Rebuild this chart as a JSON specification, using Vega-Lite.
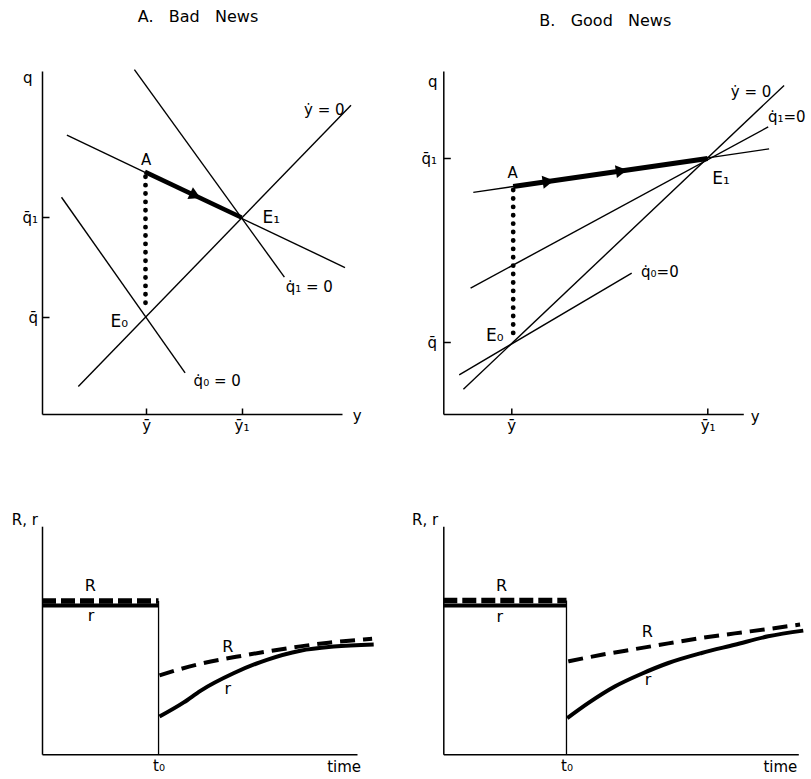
{
  "$schema": "https://vega.github.io/schema/vega-lite/v6.json",
  "autosize": {"type": "pad"},
  "padding": {"left": 11, "top": 8, "right": 0, "bottom": 0},
  "background": "white",
  "columns": 2,
  "spacing": {"row": 112.2, "column": 86.3},
  "bounds": "flush",
  "datasets": {
    "a_thin": [
      {"line": "ydot", "x": 12.1, "y": 8}, {"line": "ydot", "x": 103, "y": 90},
      {"line": "q1dot", "x": 30.8, "y": 100.4}, {"line": "q1dot", "x": 80.8, "y": 39.9},
      {"line": "q0dot", "x": 6.5, "y": 63.2}, {"line": "q0dot", "x": 47.7, "y": 12},
      {"line": "saddle", "x": 8.3, "y": 81.3}, {"line": "saddle", "x": 101, "y": 42.7}
    ],
    "a_path": [{"x": 34.3, "y": 70.6}, {"x": 66.5, "y": 57.3}],
    "a_dots": [{"x": 34.5, "y": 69.2}, {"x": 34.5, "y": 30.8}],
    "a_heads": [{"x": 51.1, "y": 63.7}],
    "a_labels": [
      {"label": "A", "x": 34.7, "y": 74.1},
      {"label": "E₁", "x": 76.4, "y": 57.1},
      {"label": "E₀", "x": 25.8, "y": 26.7},
      {"label": "ẏ = 0", "x": 94.1, "y": 88.7},
      {"label": "q̇₁ = 0", "x": 89.1, "y": 36.9},
      {"label": "q̇₀ = 0", "x": 58.4, "y": 9.7}
    ],
    "b_thin": [
      {"line": "ydot", "x": 6.7, "y": 7.2}, {"line": "ydot", "x": 113.6, "y": 95.8},
      {"line": "q1dot", "x": 9.1, "y": 36.7}, {"line": "q1dot", "x": 108.3, "y": 83.7},
      {"line": "q0dot", "x": 5.3, "y": 11.4}, {"line": "q0dot", "x": 62.8, "y": 41.1},
      {"line": "saddle", "x": 10, "y": 64.6}, {"line": "saddle", "x": 108.6, "y": 77.3}
    ],
    "b_path": [{"x": 23.3, "y": 66.3}, {"x": 88.1, "y": 74.5}],
    "b_dots": [{"x": 23.3, "y": 65.3}, {"x": 23.3, "y": 23.3}],
    "b_heads": [{"x": 35, "y": 67.8}, {"x": 59.4, "y": 70.9}],
    "b_labels": [
      {"label": "A", "x": 23.1, "y": 70.4},
      {"label": "E₁", "x": 92.6, "y": 68.5},
      {"label": "E₀", "x": 17.2, "y": 22.8},
      {"label": "ẏ = 0", "x": 102.6, "y": 93.8},
      {"label": "q̇₁=0", "x": 114.5, "y": 86.5},
      {"label": "q̇₀=0", "x": 72.2, "y": 41.3}
    ],
    "c_R": [
      {"phase": "before", "x": 0, "y": 67.2}, {"phase": "before", "x": 37, "y": 67.2},
      {"phase": "after", "x": 37.3, "y": 34.6}, {"phase": "after", "x": 49.2, "y": 39.3},
      {"phase": "after", "x": 64, "y": 43.3}, {"phase": "after", "x": 73.5, "y": 45.5},
      {"phase": "after", "x": 82, "y": 47.3}, {"phase": "after", "x": 91, "y": 48.9},
      {"phase": "after", "x": 102.1, "y": 50.3}, {"phase": "after", "x": 104.8, "y": 50.6}
    ],
    "c_r": [
      {"phase": "before", "x": 0, "y": 65.2}, {"phase": "before", "x": 37, "y": 65.2},
      {"phase": "after", "x": 37.3, "y": 16.5}, {"phase": "after", "x": 45, "y": 22.7},
      {"phase": "after", "x": 50.3, "y": 27.8}, {"phase": "after", "x": 60.8, "y": 35.5},
      {"phase": "after", "x": 71.4, "y": 41.4}, {"phase": "after", "x": 82, "y": 45.4},
      {"phase": "after", "x": 92.6, "y": 47.2}, {"phase": "after", "x": 105.3, "y": 48.1}
    ],
    "c_t0": [{"x": 37, "y": 0, "y2": 67.2}],
    "c_labels": [
      {"label": "R", "x": 15.3, "y": 73.6},
      {"label": "r", "x": 15.6, "y": 60.5},
      {"label": "R", "x": 59, "y": 46.9},
      {"label": "r", "x": 59, "y": 28.6}
    ],
    "d_R": [
      {"phase": "before", "x": 0, "y": 67.4}, {"phase": "before", "x": 34.7, "y": 67.4},
      {"phase": "after", "x": 35.2, "y": 40.7}, {"phase": "after", "x": 44.6, "y": 43.6},
      {"phase": "after", "x": 54, "y": 46.1}, {"phase": "after", "x": 63.4, "y": 48.6},
      {"phase": "after", "x": 72.8, "y": 51}, {"phase": "after", "x": 82.1, "y": 53},
      {"phase": "after", "x": 91.5, "y": 54.9}, {"phase": "after", "x": 100.5, "y": 56.9}
    ],
    "d_r": [
      {"phase": "before", "x": 0, "y": 65.2}, {"phase": "before", "x": 34.7, "y": 65.2},
      {"phase": "after", "x": 34.9, "y": 15.8}, {"phase": "after", "x": 40.8, "y": 22.4},
      {"phase": "after", "x": 48.3, "y": 29.7}, {"phase": "after", "x": 55.9, "y": 35.3},
      {"phase": "after", "x": 63.4, "y": 40}, {"phase": "after", "x": 72.8, "y": 44.4},
      {"phase": "after", "x": 82.1, "y": 48}, {"phase": "after", "x": 91.5, "y": 51.7},
      {"phase": "after", "x": 101.4, "y": 54.2}
    ],
    "d_t0": [{"x": 34.7, "y": 0, "y2": 67.4}],
    "d_labels": [
      {"label": "R", "x": 16.4, "y": 73.9},
      {"label": "r", "x": 15.9, "y": 60},
      {"label": "R", "x": 57.5, "y": 53.4},
      {"label": "r", "x": 57.7, "y": 32.6}
    ]
  },
  "concat": [
    {
      "width": 300, "height": 343,
      "title": {"text": "A.\u00a0\u00a0 Bad\u00a0\u00a0 News", "frame": "group", "anchor": "middle", "offset": 42, "dx": 6},
      "encoding": {
        "x": {"field": "x", "type": "quantitative", "scale": {"domain": [0, 100], "nice": false, "zero": false},
          "axis": {"values": [34.7, 66.5], "labelExpr": "datum.value < 50 ? 'ȳ' : 'ȳ₁'", "tickSize": -6, "labelPadding": 17.7, "labelBaseline": "middle",
            "title": "y", "titleAngle": 0, "titleX": 314.8, "titleY": 1.7, "titleAlign": "center", "titleBaseline": "middle"}},
        "y": {"field": "y", "type": "quantitative", "scale": {"domain": [0, 100], "nice": false, "zero": false},
          "axis": {"values": [28.2, 57.3], "labelExpr": "datum.value < 40 ? 'q̄' : 'q̄₁'", "tickSize": -7, "labelPadding": 11.4, "labelBaseline": "middle",
            "title": "q", "titleAngle": 0, "titleX": -14.7, "titleY": 6.7, "titleAlign": "center", "titleBaseline": "middle"}}
      },
      "layer": [
        {"data": {"name": "a_thin"}, "mark": {"type": "line", "color": "black", "strokeWidth": 1.4}, "encoding": {"detail": {"field": "line"}}},
        {"data": {"name": "a_path"}, "mark": {"type": "line", "color": "black", "strokeWidth": 4.5}, "encoding": {}},
        {"data": {"name": "a_dots"}, "mark": {"type": "line", "color": "black", "strokeWidth": 4.8, "strokeCap": "round", "strokeDash": [0.1, 8.3]}, "encoding": {}},
        {"data": {"name": "a_heads"}, "mark": {"type": "point", "shape": "triangle-right", "filled": true, "color": "black", "opacity": 1, "size": 170, "angle": 25}},
        {"data": {"name": "a_labels"}, "transform": [{"filter": "!test(/^E/, datum.label)"}], "mark": {"type": "text", "fontSize": 15, "color": "black"}, "encoding": {"text": {"field": "label"}}},
        {"data": {"name": "a_labels"}, "transform": [{"filter": "test(/^E/, datum.label)"}], "mark": {"type": "text", "fontSize": 17, "color": "black"}, "encoding": {"text": {"field": "label"}}}
      ]
    },
    {
      "width": 300, "height": 343,
      "title": {"text": "B.\u00a0\u00a0 Good\u00a0\u00a0 News", "frame": "group", "anchor": "middle", "offset": 42, "dx": 12},
      "encoding": {
        "x": {"field": "x", "type": "quantitative", "scale": {"domain": [0, 100], "nice": false, "zero": false},
          "axis": {"values": [22.6, 88.1], "labelExpr": "datum.value < 50 ? 'ȳ' : 'ȳ₁'", "tickSize": -6, "labelPadding": 17.7, "labelBaseline": "middle",
            "title": "y", "titleAngle": 0, "titleX": 311.3, "titleY": 2.4, "titleAlign": "center", "titleBaseline": "middle"}},
        "y": {"field": "y", "type": "quantitative", "scale": {"domain": [0, 100], "nice": false, "zero": false},
          "axis": {"values": [20.9, 74.5], "labelExpr": "datum.value < 40 ? 'q̄' : 'q̄₁'", "tickSize": -7, "labelPadding": 13.7, "labelBaseline": "middle",
            "title": "q", "titleAngle": 0, "titleX": -11, "titleY": 10.4, "titleAlign": "center", "titleBaseline": "middle"}}
      },
      "layer": [
        {"data": {"name": "b_thin"}, "mark": {"type": "line", "color": "black", "strokeWidth": 1.4}, "encoding": {"detail": {"field": "line"}}},
        {"data": {"name": "b_path"}, "mark": {"type": "line", "color": "black", "strokeWidth": 5}, "encoding": {}},
        {"data": {"name": "b_dots"}, "mark": {"type": "line", "color": "black", "strokeWidth": 4.8, "strokeCap": "round", "strokeDash": [0.1, 8.3]}, "encoding": {}},
        {"data": {"name": "b_heads"}, "mark": {"type": "point", "shape": "triangle-right", "filled": true, "color": "black", "opacity": 1, "size": 170, "angle": -8.8}},
        {"data": {"name": "b_labels"}, "transform": [{"filter": "!test(/^E/, datum.label)"}], "mark": {"type": "text", "fontSize": 15, "color": "black"}, "encoding": {"text": {"field": "label"}}},
        {"data": {"name": "b_labels"}, "transform": [{"filter": "test(/^E/, datum.label)"}], "mark": {"type": "text", "fontSize": 17, "color": "black"}, "encoding": {"text": {"field": "label"}}}
      ]
    },
    {
      "width": 315, "height": 228,
      "encoding": {
        "x": {"field": "x", "type": "quantitative", "scale": {"domain": [0, 100], "nice": false, "zero": false},
          "axis": {"values": [37], "labelExpr": "'t₀'", "ticks": false, "labelPadding": 4, "labelBaseline": "top",
            "title": "time", "titleAngle": 0, "titleX": 301.6, "titleY": 12.5, "titleAlign": "center", "titleBaseline": "middle"}},
        "y": {"field": "y", "type": "quantitative", "scale": {"domain": [0, 100], "nice": false, "zero": false},
          "axis": {"values": [], "ticks": false, "labels": false,
            "title": "R, r", "titleAngle": 0, "titleX": -17.7, "titleY": -6.3, "titleAlign": "center", "titleBaseline": "middle"}}
      },
      "layer": [
        {"data": {"name": "c_t0"}, "mark": {"type": "rule", "color": "black", "strokeWidth": 1.3}, "encoding": {"y2": {"field": "y2"}}},
        {"data": {"name": "c_r"}, "transform": [{"filter": "datum.phase == 'before'"}], "mark": {"type": "line", "color": "black", "strokeWidth": 4}, "encoding": {}},
        {"data": {"name": "c_R"}, "transform": [{"filter": "datum.phase == 'before'"}], "mark": {"type": "line", "color": "black", "strokeWidth": 5.5, "strokeDash": [14, 5]}, "encoding": {}},
        {"data": {"name": "c_r"}, "transform": [{"filter": "datum.phase == 'after'"}], "mark": {"type": "line", "color": "black", "strokeWidth": 4, "interpolate": "monotone"}, "encoding": {}},
        {"data": {"name": "c_R"}, "transform": [{"filter": "datum.phase == 'after'"}], "mark": {"type": "line", "color": "black", "strokeWidth": 4, "strokeDash": [15, 8], "interpolate": "monotone"}, "encoding": {}},
        {"data": {"name": "c_labels"}, "mark": {"type": "text", "fontSize": 16, "color": "black"}, "encoding": {"text": {"field": "label"}}}
      ]
    },
    {
      "width": 355, "height": 228,
      "encoding": {
        "x": {"field": "x", "type": "quantitative", "scale": {"domain": [0, 100], "nice": false, "zero": false},
          "axis": {"values": [34.7], "labelExpr": "'t₀'", "ticks": false, "labelPadding": 4, "labelBaseline": "top",
            "title": "time", "titleAngle": 0, "titleX": 336.6, "titleY": 12.5, "titleAlign": "center", "titleBaseline": "middle"}},
        "y": {"field": "y", "type": "quantitative", "scale": {"domain": [0, 100], "nice": false, "zero": false},
          "axis": {"values": [], "ticks": false, "labels": false,
            "title": "R, r", "titleAngle": 0, "titleX": -18.7, "titleY": -6.7, "titleAlign": "center", "titleBaseline": "middle"}}
      },
      "layer": [
        {"data": {"name": "d_t0"}, "mark": {"type": "rule", "color": "black", "strokeWidth": 1.3}, "encoding": {"y2": {"field": "y2"}}},
        {"data": {"name": "d_r"}, "transform": [{"filter": "datum.phase == 'before'"}], "mark": {"type": "line", "color": "black", "strokeWidth": 4}, "encoding": {}},
        {"data": {"name": "d_R"}, "transform": [{"filter": "datum.phase == 'before'"}], "mark": {"type": "line", "color": "black", "strokeWidth": 5.5, "strokeDash": [14, 5]}, "encoding": {}},
        {"data": {"name": "d_r"}, "transform": [{"filter": "datum.phase == 'after'"}], "mark": {"type": "line", "color": "black", "strokeWidth": 4, "interpolate": "monotone"}, "encoding": {}},
        {"data": {"name": "d_R"}, "transform": [{"filter": "datum.phase == 'after'"}], "mark": {"type": "line", "color": "black", "strokeWidth": 4, "strokeDash": [15, 8], "interpolate": "monotone"}, "encoding": {}},
        {"data": {"name": "d_labels"}, "mark": {"type": "text", "fontSize": 16, "color": "black"}, "encoding": {"text": {"field": "label"}}}
      ]
    }
  ],
  "config": {
    "font": "DejaVu Sans",
    "view": {"stroke": null},
    "axis": {
      "grid": false, "domainColor": "black", "domainWidth": 1.5, "tickColor": "black", "tickWidth": 1.5,
      "labelColor": "black", "labelFont": "DejaVu Sans", "labelFontSize": 15, "labelFlush": false, "labelOverlap": false,
      "titleColor": "black", "titleFont": "DejaVu Sans", "titleFontSize": 15, "titleFontWeight": "normal"
    },
    "title": {"font": "DejaVu Sans", "fontSize": 16, "fontWeight": "normal", "color": "black"},
    "text": {"font": "DejaVu Sans"}
  }
}
